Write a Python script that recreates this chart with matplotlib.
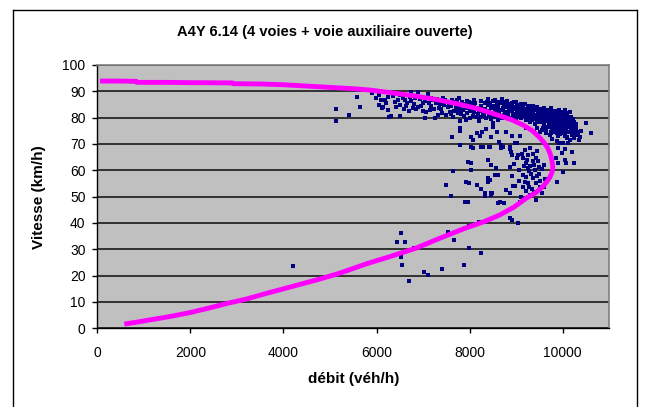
import matplotlib.pyplot as plt
from matplotlib.lines import Line2D

# Courbe débit-vitesse ajustée
courbe_debit = [60, 400, 840, 850, 1500, 2000, 2900, 2920, 3500, 4000, 4500, 5000, 5500,
                5850, 6300, 6800, 7250, 7700, 8150, 8600, 8900, 9150, 9350, 9500, 9600,
                9680, 9730, 9765, 9785, 9780, 9760, 9720, 9650, 9570, 9420, 9215, 8950,
                8640, 8310, 7900, 7400, 6840, 6300, 5800, 5200, 4800, 4400, 4000, 3600,
                3200, 2800, 2400, 2000, 1600, 1200, 900, 580]
courbe_vitesse = [93.9, 93.9, 93.8, 93.4, 93.4, 93.3, 93.2, 92.9, 92.8, 92.5, 92.0, 91.5, 91.0,
                  90.5, 89.5, 88.3, 87.0, 85.4, 83.5, 81.0, 79.2, 77.2, 75.0, 72.5, 70.5,
                  68.4, 66.3, 64.0, 61.5, 60.0, 58.8, 57.3, 55.5, 53.8, 51.5, 49.4, 46.0,
                  43.0, 40.5, 38.0, 34.5, 30.4, 27.3, 24.6, 20.9, 18.8, 16.9, 15.0, 13.1,
                  11.1, 9.5, 7.7, 6.0, 4.6, 3.4, 2.5, 1.6]

# Mesures : bande fluide (débit, vitesse)
bande_fluide = [
    (5990, 87.6), (6100, 86.8), (6140, 84.2), (6200, 85.5), (6250, 83.0), (6320, 80.7),
    (6350, 88.4), (6390, 86.0), (6420, 84.0), (6500, 84.8), (6500, 80.7), (6560, 87.5),
    (6600, 86.8), (6640, 84.4), (6700, 82.5), (6750, 86.3), (6750, 89.9), (6800, 85.0),
    (6850, 83.2), (6890, 89.9), (6890, 84.2), (6940, 87.0), (7000, 85.4), (7030, 79.7),
    (7060, 82.0), (7100, 88.8), (7140, 82.8), (7180, 84.5), (7210, 86.8), (7250, 80.0),
    (7280, 85.6), (7320, 80.9), (7350, 83.5), (7390, 83.2), (7420, 87.5), (7460, 86.3),
    (7500, 81.2), (7530, 84.0), (7570, 82.3), (7600, 84.6), (7640, 80.4), (7680, 86.0),
    (7710, 83.4), (7750, 81.8), (7780, 87.3), (7800, 84.2), (7820, 81.4), (7860, 82.9),
    (7890, 85.0), (7930, 79.3), (7960, 83.8), (8000, 82.5), (8030, 85.5), (8070, 80.6),
    (8100, 84.0), (8140, 83.6), (8180, 81.5), (8210, 78.6), (8240, 84.6), (8280, 81.8),
    (8320, 83.2), (8350, 80.0), (8390, 84.8), (8420, 82.5), (8460, 79.5), (8500, 78.0),
    (8540, 86.6), (8570, 80.6), (8600, 83.5), (6270, 80.4), (6120, 83.5),
    (8430, 85.4), (8470, 83.8), (8520, 84.5), (8560, 82.0), (8610, 84.9), (8650, 83.0),
    (8690, 85.6), (8730, 84.8), (8760, 82.2), (8800, 83.9), (8830, 81.0), (8860, 85.2),
    (8890, 84.2), (8920, 82.6), (8950, 80.6), (8980, 84.0), (9010, 82.0), (9040, 83.6),
    (9070, 81.3), (9100, 85.0), (9130, 82.9), (9150, 84.2), (9180, 80.8), (9210, 83.1),
    (9240, 81.9), (9270, 84.5), (9300, 82.7), (9320, 80.2), (9340, 82.3), (9370, 83.8),
    (9400, 81.0), (9420, 79.4), (9450, 82.9), (9480, 80.7), (9500, 83.3), (9530, 81.7),
    (9550, 79.5), (9580, 82.4), (9610, 80.9), (9630, 78.7), (9660, 81.8), (9690, 79.9),
    (9720, 80.4), (9740, 82.6), (9770, 78.8), (9800, 81.2), (9820, 79.6), (9850, 77.8),
    (9870, 79.7), (9900, 81.5), (9930, 78.5), (9950, 80.3), (9980, 76.9), (10000, 79.2),
    (10030, 79.7), (10050, 81.0), (10080, 77.5), (10100, 78.8), (10130, 80.4), (10160, 76.4),
    (10180, 80.4), (10210, 78.0), (10250, 78.5), (10270, 75.6), (10290, 76.0), (10320, 73.5),
    (10340, 71.4), (9400, 77.5), (9450, 76.0), (9500, 78.2), (9550, 75.4), (9600, 77.0),
    (9650, 74.2), (9700, 76.6), (9720, 73.3), (9760, 75.6), (9800, 77.4), (9830, 74.5),
    (9860, 76.2), (9890, 73.0), (9920, 75.3), (9950, 73.9), (9980, 74.8), (10010, 76.3),
    (10040, 72.9), (10090, 72.7), (10120, 74.4), (10150, 71.6), (10200, 73.6), (10240, 72.2),
    (10260, 74.8), (9880, 71.0), (9760, 72.0), (9640, 75.6), (9300, 78.5), (9200, 79.0),
    (9100, 79.8), (9000, 79.5), (8900, 80.0), (8700, 80.0), (8600, 79.0),
    (9250, 83.5), (9350, 84.6), (9450, 84.0), (9550, 83.1), (9650, 82.8), (9750, 83.6),
    (9850, 82.4), (9950, 82.0), (10050, 82.9), (10150, 82.3), (9600, 79.3), (9700, 78.2),
    (9800, 79.9), (9900, 80.6), (10000, 77.6), (9000, 86.0), (8950, 85.8), (8800, 86.5),
    (8700, 87.0), (8400, 87.0), (8250, 86.3), (8100, 86.8), (7950, 86.5), (6500, 88.6),
    (6250, 87.8), (6050, 88.6), (5900, 89.3),
    (10500, 77.9), (10600, 74.0), (10400, 75.0), (10380, 72.5),
]

# Mesures : coeur de la bande fluide (zone très dense)
bande_dense = [
    (8320, 85.7), (8360, 82.3), (8380, 86.1), (8410, 80.9), (8450, 84.1), (8480, 81.2),
    (8510, 86.3), (8530, 80.2), (8550, 83.2), (8580, 85.4), (8620, 81.6), (8640, 86.0),
    (8660, 80.7), (8680, 82.8), (8710, 83.5), (8740, 81.1), (8770, 85.8), (8790, 80.6),
    (8820, 84.6), (8840, 82.5), (8870, 79.6), (8880, 83.1), (8910, 85.7), (8930, 81.5),
    (8960, 83.2), (8990, 81.0), (9020, 84.9), (9030, 80.4), (9060, 82.6), (9080, 84.3),
    (9110, 80.1), (9120, 83.7), (9140, 81.6), (9170, 82.4), (9190, 85.3), (9220, 80.1),
    (9230, 82.1), (9260, 79.8), (9280, 83.4), (9290, 81.2), (9310, 84.1), (9330, 79.2),
    (9360, 81.5), (9380, 82.9), (9410, 80.3), (9430, 83.4), (9440, 78.6), (9470, 81.8),
    (9490, 79.6), (9510, 82.2), (9520, 80.0), (9540, 78.4), (9560, 81.1), (9590, 83.6),
    (9600, 78.1), (9620, 82.1), (9640, 80.1), (9670, 79.0), (9680, 83.0), (9700, 81.1),
    (9710, 77.5), (9730, 79.2), (9750, 81.7), (9780, 80.2), (9790, 77.1), (9810, 82.7),
    (9830, 80.7), (9840, 78.6), (9860, 81.0), (9880, 77.2), (9890, 79.1), (9910, 82.9),
    (9920, 80.0), (9940, 77.0), (9960, 78.9), (9970, 81.0), (9990, 80.0), (10010, 78.2),
    (10020, 82.0), (10040, 76.0), (10060, 79.5), (10070, 80.2), (10090, 81.7), (10110, 76.9),
    (10120, 79.4), (10140, 78.1), (10170, 79.1), (10190, 77.2), (10220, 79.6), (10230, 75.0),
    (10280, 77.5), (10300, 74.6), (9660, 76.4), (9740, 74.6), (9810, 75.9), (9870, 74.0),
    (9940, 76.7), (10020, 74.0), (10070, 75.3), (10180, 74.7), (9580, 76.2), (9520, 74.6),
    (7050, 86.4), (7120, 85.5), (7160, 87.6), (7230, 83.4), (7300, 86.9), (7370, 85.2),
    (7410, 81.7), (7440, 84.8), (7480, 86.7), (7550, 85.6), (7590, 81.5), (7620, 86.7),
    (7660, 82.5), (7700, 84.8), (7730, 86.6), (7770, 82.8), (7840, 85.8), (7870, 80.6),
    (7910, 83.7), (7940, 81.9), (7980, 85.9), (8010, 80.0), (8050, 83.1), (8090, 82.0),
    (8120, 85.7), (8160, 80.3), (8200, 83.0), (8230, 80.3), (8260, 82.6), (8300, 80.7),
    (6650, 85.6), (6720, 88.0), (6780, 83.6), (6820, 87.4), (6960, 84.3), (6990, 82.6),
    (6450, 86.6), (6580, 83.1), (6180, 86.7), (6050, 84.9),
]

# Mesures : nuage congestionné / instable
nuage_congestion = [
    (7784, 69.6), (8034, 69.0), (8284, 68.7), (8427, 68.7), (8678, 69.6), (8678, 68.4),
    (8857, 68.7), (8893, 67.0), (8964, 70.3), (9036, 65.8), (9179, 67.7), (9250, 65.8),
    (9357, 66.3), (9140, 64.5), (9200, 62.8), (9300, 61.5), (9350, 63.4), (9465, 63.7),
    (8857, 61.4), (8960, 62.5), (9070, 60.0), (9140, 58.3), (9210, 57.5), (9280, 59.7),
    (9360, 57.0), (9430, 55.3), (9500, 58.5), (9550, 60.5), (9600, 62.0), (9620, 56.6),
    (9480, 61.2), (9400, 60.0), (9250, 55.0), (9150, 53.5), (9050, 56.0), (8980, 54.2),
    (8900, 58.0), (8857, 51.5), (8785, 52.7), (8928, 54.2), (9071, 48.1), (9428, 48.7),
    (9607, 53.8), (9550, 51.5), (9300, 50.5), (9200, 52.0), (9100, 50.0), (7963, 63.3),
    (8034, 62.6), (8391, 63.9), (8463, 62.0), (8570, 61.0), (7640, 59.9), (8034, 60.0),
    (8606, 58.2), (8391, 57.0), (8391, 55.7), (7931, 55.7), (7994, 55.0), (8153, 54.4),
    (8241, 52.8), (8329, 51.3), (8462, 50.6), (8612, 47.7), (8740, 47.7), (7498, 54.4),
    (7605, 50.2), (7891, 48.1), (8320, 50.2), (8463, 51.5), (8642, 47.8), (8550, 58.2),
    (8440, 56.5), (8082, 68.4), (8241, 69.0), (8417, 69.0), (8082, 71.4), (8153, 74.0),
    (8260, 74.4), (8462, 72.8), (8505, 76.6), (8590, 74.4), (8770, 74.7), (8900, 73.0),
    (8638, 70.9), (8726, 69.0), (8870, 68.0), (8900, 66.0), (9025, 64.5), (9025, 70.3),
    (9080, 73.0), (9220, 76.0), (9390, 74.5), (7623, 72.5), (7782, 75.0), (7784, 76.1),
    (8034, 72.8), (8213, 73.0), (8355, 75.6), (7784, 78.6), (8490, 51.4), (7964, 48.1),
    (9893, 62.7), (10000, 59.5), (10072, 62.7), (10251, 62.7), (10000, 70.3), (10107, 70.3),
    (10050, 68.0), (9741, 74.0), (9910, 70.3), (10094, 72.2), (10180, 75.6), (10270, 73.5),
    (10050, 64.0), (9990, 66.6), (9900, 68.4), (9873, 55.7), (10200, 67.0), (9743, 65.0),
    (9850, 64.8), (9330, 53.0), (9180, 55.5), (9260, 60.8), (9420, 64.8), (9520, 56.0),
    (9320, 58.6), (9390, 62.2), (9450, 57.8), (9230, 64.0), (9160, 61.6), (9120, 66.3),
    (9300, 68.6), (9440, 67.4), (9510, 53.5), (9380, 51.8), (9270, 53.6),
]

# Mesures isolées
points_isoles = [
    (5133, 83.4), (5133, 78.9), (5397, 81.0), (5573, 87.7), (5637, 83.9), (4197, 23.7),
    (6440, 32.9), (6518, 36.1), (6607, 32.9), (6518, 27.0), (6546, 24.0), (6696, 18.1),
    (6810, 30.4), (7022, 21.5), (7110, 20.2), (7402, 22.4), (7535, 36.7), (7666, 33.5),
    (7870, 24.0), (7994, 30.6), (8241, 28.5), (7994, 38.9), (8196, 40.5), (8857, 41.8),
    (8900, 41.1), (9035, 40.1),
]

titre = "A4Y 6.14 (4 voies + voie auxiliaire ouverte)"
xticks = [0, 2000, 4000, 6000, 8000, 10000]
yticks = list(range(0, 101, 10))

plt.rcParams['font.family'] = ['Liberation Sans', 'DejaVu Sans']

fig = plt.figure(figsize=(6.45, 4.07), dpi=100)
ax = fig.add_axes([97.3 / 645, 1 - 328.3 / 407, 512 / 645, 263.3 / 407])
ax.set_facecolor('#C0C0C0')

mesures = bande_fluide + bande_dense + nuage_congestion + points_isoles
ax.scatter([p[0] for p in mesures], [p[1] for p in mesures], marker='s', s=5.5,
           color='#000080', linewidths=0, zorder=3)
ax.plot(courbe_debit, courbe_vitesse, color='#FF00FF', lw=3.5, zorder=4,
        solid_capstyle='butt', solid_joinstyle='round')

ax.set_xlim(0, 11000)
ax.set_ylim(0, 100)
ax.set_xticks(xticks)
ax.set_yticks(yticks)
ax.grid(axis='y', color='#1a1a1a', lw=1.2, zorder=1)
ax.set_axisbelow(True)

for side in ['top', 'right']:
    ax.spines[side].set_color('#808080')
    ax.spines[side].set_linewidth(1.2)
for side in ['left', 'bottom']:
    ax.spines[side].set_color('black')
    ax.spines[side].set_linewidth(1.0)

ax.tick_params(axis='y', direction='out', length=3.5, width=1, pad=5, labelsize=10)
ax.tick_params(axis='x', direction='out', length=3.5, width=1, pad=9, labelsize=10)

ax.set_xlabel("débit (véh/h)", fontsize=11, fontweight='bold', labelpad=9)
ax.set_ylabel("Vitesse (km/h)", fontsize=11, fontweight='bold', labelpad=12)
fig.text(325 / 645, 1 - 32 / 407, titre, ha='center', va='center',
         fontsize=10.5, fontweight='bold')

# cadre de la zone graphique (Excel)
x0, x1, y0 = 12.5 / 645, 637 / 645, 1 - 9.5 / 407
fig.add_artist(Line2D([x0, x0], [0, y0], color='black', lw=1.0))
fig.add_artist(Line2D([x0, x1], [y0, y0], color='black', lw=1.0))
fig.add_artist(Line2D([x1, x1], [0, y0], color='black', lw=1.0))

fig.savefig('out.png', dpi=100, facecolor='white')
